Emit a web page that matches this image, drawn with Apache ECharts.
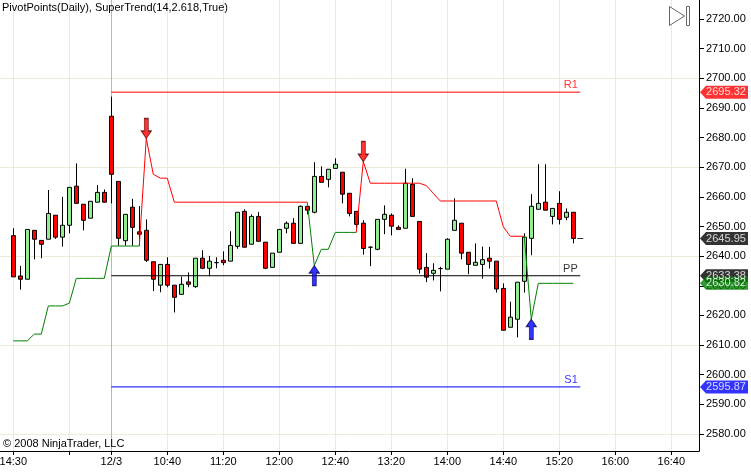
<!DOCTYPE html>
<html><head><meta charset="utf-8">
<script src="https://cdn.jsdelivr.net/npm/echarts@6/dist/echarts.min.js"></script>
<style>html,body{margin:0;padding:0;background:#fff}#c{width:751px;height:472px}</style>
</head><body><div id="c"></div>
<script>
// x-axis: one slot per 5-minute bar
const tickSlots = [0, 8, 14, 22, 30, 38, 46, 54, 62, 70, 78, 86, 94];
const tickLabels = ['14:30', '', '12/3', '10:40', '11:20', '12:00', '12:40', '13:20', '14:00', '14:40', '15:20', '16:00', '16:40'];
const priceTicks = [2580, 2590, 2600, 2610, 2620, 2630, 2640, 2650, 2660, 2670, 2680, 2690, 2700, 2710, 2720];

const opens = [
2646.9, 2633.3, 2632.2, 2648.7, 2645.3, 2645.7, 2653.8, 2646.4, 2650.4, 2663.6,
2657.5, 2652.8, 2658.2, 2661.5, 2687.2, 2665.2, 2645.2, 2656.5, 2648.2, 2648.7,
2638.1, 2630.2, 2637.2, 2630.2, 2627.1, 2631.3, 2629.7, 2639.3, 2635.9, 2637.8,
2638.6, 2638.3, 2643.3, 2655.1, 2644.0, 2653.4, 2644.7, 2636.2, 2641.3, 2649.4,
2651.1, 2644.3, 2656.8, 2654.8, 2666.9, 2665.9, 2669.6, 2668.3, 2661.2, 2655.1,
2651.1, 2643.0, 2642.3, 2652.4, 2653.8, 2649.7, 2649.4, 2664.2, 2651.7, 2636.2,
2634.2, 2635.8, 2635.6, 2648.7, 2651.1, 2641.3, 2636.9, 2637.2, 2639.3, 2638.3,
2629.1, 2616.0, 2618.7, 2631.5, 2646.0, 2655.8, 2658.2, 2653.4, 2657.8, 2653.1,
2654.8];
const closes = [
2633.0, 2632.2, 2649.0, 2645.7, 2644.0, 2654.4, 2646.4, 2650.4, 2663.2, 2657.8,
2652.1, 2658.5, 2661.5, 2658.2, 2667.6, 2646.0, 2654.1, 2649.7, 2647.4, 2638.6,
2632.2, 2637.2, 2630.2, 2626.1, 2630.5, 2630.5, 2639.3, 2635.9, 2638.3, 2637.8,
2637.8, 2643.6, 2654.8, 2643.0, 2653.4, 2645.0, 2635.9, 2641.0, 2649.0, 2651.1,
2644.3, 2656.8, 2655.5, 2666.9, 2664.9, 2669.3, 2671.0, 2660.9, 2654.4, 2650.7,
2642.6, 2643.0, 2652.4, 2654.1, 2650.1, 2649.0, 2664.6, 2653.4, 2635.6, 2632.9,
2635.2, 2635.8, 2645.7, 2652.1, 2641.0, 2637.2, 2637.9, 2638.8, 2638.3, 2628.9,
2615.0, 2619.4, 2631.2, 2646.4, 2656.8, 2657.8, 2655.5, 2656.1, 2652.4, 2654.8,
2645.95];
const lows = [
2633.0, 2628.7, 2632.2, 2638.9, 2639.3, 2645.7, 2645.8, 2643.2, 2647.7, 2657.8,
2648.7, 2652.8, 2658.2, 2658.2, 2657.8, 2643.5, 2643.5, 2643.5, 2643.5, 2638.0,
2628.2, 2627.8, 2629.5, 2621.0, 2627.1, 2629.5, 2629.3, 2635.6, 2633.2, 2635.9,
2636.9, 2638.3, 2642.5, 2643.0, 2644.0, 2645.0, 2635.6, 2636.2, 2641.3, 2647.7,
2644.3, 2644.3, 2654.1, 2654.4, 2664.9, 2663.2, 2669.6, 2657.8, 2653.4, 2649.5,
2640.5, 2636.6, 2642.0, 2647.4, 2647.0, 2649.0, 2649.4, 2653.4, 2634.1, 2631.2,
2631.8, 2628.1, 2635.6, 2648.7, 2638.9, 2633.9, 2636.9, 2632.4, 2635.8, 2627.7,
2615.0, 2616.0, 2612.6, 2627.7, 2640.3, 2655.8, 2655.5, 2650.7, 2650.7, 2652.1,
2644.3];
const highs = [
2649.4, 2636.7, 2649.0, 2648.7, 2645.3, 2662.3, 2653.8, 2660.0, 2663.2, 2671.3,
2657.5, 2658.5, 2664.0, 2662.5, 2693.8, 2665.2, 2654.1, 2659.3, 2656.9, 2652.4,
2638.1, 2637.2, 2639.6, 2630.2, 2633.1, 2634.5, 2639.3, 2642.0, 2640.1, 2639.6,
2641.6, 2648.4, 2654.8, 2655.8, 2654.1, 2654.9, 2644.7, 2641.0, 2649.0, 2651.7,
2652.8, 2657.1, 2656.8, 2671.7, 2670.3, 2669.3, 2673.0, 2668.3, 2661.2, 2655.1,
2652.1, 2643.3, 2652.4, 2657.1, 2654.4, 2650.4, 2669.5, 2666.3, 2651.7, 2641.0,
2637.6, 2636.4, 2646.0, 2659.5, 2651.1, 2641.3, 2644.3, 2643.2, 2643.1, 2638.3,
2630.8, 2624.6, 2631.2, 2647.7, 2660.9, 2671.0, 2671.0, 2656.1, 2661.9, 2656.1,
2654.8];

// SuperTrend(14,2.618): up-trend (green) and down-trend (red) values per bar
const superUp = [
2611.4, 2611.4, 2611.4, 2613.7, 2613.7, 2623.2, 2623.2, 2623.2, 2624.1, 2632.5,
2632.5, 2632.5, 2632.5, 2632.5, 2643.4, 2643.4, 2643.4, 2643.4, 2643.4, null,
null, null, null, null, null, null, null, null, null, null,
null, null, null, null, null, null, null, null, null, null,
null, null, 2658.2, 2636.8, 2642.3, 2642.3, 2648.0, 2648.0, 2648.0, 2648.0,
null, null, null, null, null, null, null, null, null, null,
null, null, null, null, null, null, null, null, null, null,
null, null, null, 2646.7, 2618.7, 2630.82, 2630.82, 2630.82, 2630.82, 2630.82,
2630.82];
const superDown = [
null, null, null, null, null, null, null, null, null, null,
null, null, null, null, null, null, null, null, 2643.4, 2679.7,
2667.6, 2666.3, 2666.3, 2658.2, 2658.2, 2658.2, 2658.2, 2658.2, 2658.2, 2658.2,
2658.2, 2658.2, 2658.2, 2658.2, 2658.2, 2658.2, 2658.2, 2658.2, 2658.2, 2658.2,
2658.2, 2658.2, 2658.2, null, null, null, null, null, null, 2648.0,
2671.9, 2664.6, 2664.6, 2664.6, 2664.6, 2664.6, 2664.6, 2664.6, 2664.6, 2663.8,
2661.2, 2658.6, 2658.6, 2658.6, 2658.6, 2658.6, 2658.6, 2658.6, 2658.6, 2658.6,
2649.9, 2646.7, 2646.7, 2646.7, null, null, null, null, null, null,
null];

const sellSlots = [19, 50];
const sellValues = [2679.7, 2671.9];
const buySlots = [43, 74];
const buyValues = [2636.8, 2618.7];

const pivotNames = ['R1', 'PP', 'S1'];
const pivotValues = [2695.32, 2633.38, 2595.87];
const pivotColors = ['#ff0000', '#000000', '#0000ff'];
const pivotStart = 14, pivotEnd = 81;

const tagValues = [2695.32, 2645.95, 2633.38, 2630.82, 2595.87];
const tagColors = ['#ff0000', '#000000', '#000000', '#008000', '#0000ff'];
const lastPrice = 2645.95, lastSlot = 81;

const X_MIN = -1.9, X_MAX = 97.96;
const Y_MIN = 2574.25, Y_MAX = 2726.41;
const FONT = '"Liberation Sans", Arial, sans-serif';
const GRID = '#ecead9';

const chart = echarts.init(document.getElementById('c'), null, {renderer: 'canvas', width: 751, height: 472});
const toLine = arr => arr.map((v, i) => [i, v == null ? '-' : v]);
const txt = {fontFamily: FONT, fontSize: 11, color: '#000'};

const series = [
  {
    type: 'candlestick',
    data: opens.map((o, i) => [i, o, closes[i], lows[i], highs[i]]),
    encode: {x: 0, y: [1, 2, 3, 4]},
    barWidth: 5,
    itemStyle: {color: '#90ee90', color0: '#ff0000', borderColor: '#000', borderColor0: '#000', borderColorDoji: '#000', borderWidth: 1},
    z: 2
  },
  {type: 'line', data: toLine(superDown), symbol: 'none', connectNulls: false, lineStyle: {color: '#ff0000', width: 1}, z: 3},
  {type: 'line', data: toLine(superUp), symbol: 'none', connectNulls: false, lineStyle: {color: '#008000', width: 1}, z: 3}
];
pivotNames.forEach((n, i) => {
  series.push({type: 'line', data: [[pivotStart, pivotValues[i]], [pivotEnd, pivotValues[i]]], symbol: 'none', lineStyle: {color: pivotColors[i], width: 1}, z: 4});
  series.push({type: 'scatter', data: [[pivotEnd, pivotValues[i]]], symbol: 'rect', symbolSize: 1,
    itemStyle: {color: 'rgba(0,0,0,0)'},
    label: {show: true, formatter: n, position: [-2, -1], align: 'right', verticalAlign: 'bottom', fontFamily: FONT, fontSize: 11, color: pivotColors[i]}, z: 4});
});
series.push({type: 'scatter', data: sellSlots.map((s, i) => [s, sellValues[i]]),
  symbol: 'path://M3,0L7,0L7,12L10,12L5,19L0,12L3,12Z', symbolSize: [10, 20], symbolOffset: [0, -10],
  itemStyle: {color: '#ff0000', borderColor: '#5a0000', borderWidth: 1}, z: 10});
series.push({type: 'scatter', data: buySlots.map((s, i) => [s, buyValues[i]]),
  symbol: 'path://M5,0L10,7L7,7L7,19L3,19L3,7L0,7Z', symbolSize: [10, 20], symbolOffset: [0, 10],
  itemStyle: {color: '#0000ff', borderColor: '#00005a', borderWidth: 1}, z: 10});
series.push({type: 'scatter', data: [[lastSlot, lastPrice]], symbol: 'rect', symbolSize: [6, 1], itemStyle: {color: '#000'}, z: 10});
series.push({type: 'scatter', clip: false,
  data: tagValues.map((v, i) => ({value: [X_MAX, v], itemStyle: {color: tagColors[i]}})),
  symbol: 'path://M0,6.5L6,0L48,0L48,13L6,13Z', symbolSize: [48, 13], symbolOffset: [25, 0],
  label: {show: true, position: 'inside', offset: [2, 0], formatter: p => p.value[1].toFixed(2), fontFamily: FONT, fontSize: 11, color: '#fff'},
  z: 20});

chart.setOption({
  animation: false,
  backgroundColor: '#fff',
  title: [
    {text: 'PivotPoints(Daily), SuperTrend(14,2.618,True)', left: 2, top: 2, padding: 0, textStyle: Object.assign({fontWeight: 'normal'}, txt)},
    {text: '\u00a9 2008 NinjaTrader, LLC', left: 3, top: 438, padding: 0, textStyle: Object.assign({fontWeight: 'normal'}, txt)}
  ],
  grid: {left: 0, right: 52, top: 0, bottom: 21, containLabel: false, outerBoundsMode: 'none'},
  xAxis: {
    type: 'value', min: X_MIN, max: X_MAX,
    axisLine: {show: true, onZero: false, lineStyle: {color: '#000', width: 1}},
    axisTick: {show: true, customValues: tickSlots, length: 4, lineStyle: {color: '#000'}},
    axisLabel: Object.assign({customValues: tickSlots, margin: 5, formatter: v => { const k = tickSlots.indexOf(v); return k >= 0 ? tickLabels[k] : ''; }}, txt),
    splitLine: {show: true, lineStyle: {color: tickSlots.map(s => s === 14 ? '#b8b8b8' : GRID), width: 1}}
  },
  yAxis: {
    type: 'value', position: 'right', min: Y_MIN, max: Y_MAX, scale: true,
    axisLine: {show: true, onZero: false, lineStyle: {color: '#000', width: 1}},
    axisTick: {show: true, customValues: priceTicks, length: 5, lineStyle: {color: '#000'}},
    axisLabel: Object.assign({customValues: priceTicks, margin: 7, formatter: v => v.toFixed(2)}, txt),
    splitLine: {show: true, lineStyle: {color: [GRID, 'rgba(0,0,0,0)', 'rgba(0,0,0,0)'], width: 1}}
  },
  graphic: [
    {type: 'polygon', shape: {points: [[669.5, 6.5], [684.5, 16], [669.5, 25.5]]}, style: {fill: '#fff', stroke: '#666', lineWidth: 1}, z: 30},
    {type: 'rect', shape: {x: 686.5, y: 6.5, width: 3, height: 19}, style: {fill: '#fff', stroke: '#666', lineWidth: 1}, z: 30}
  ],
  series: series
});
</script>
</body></html>
